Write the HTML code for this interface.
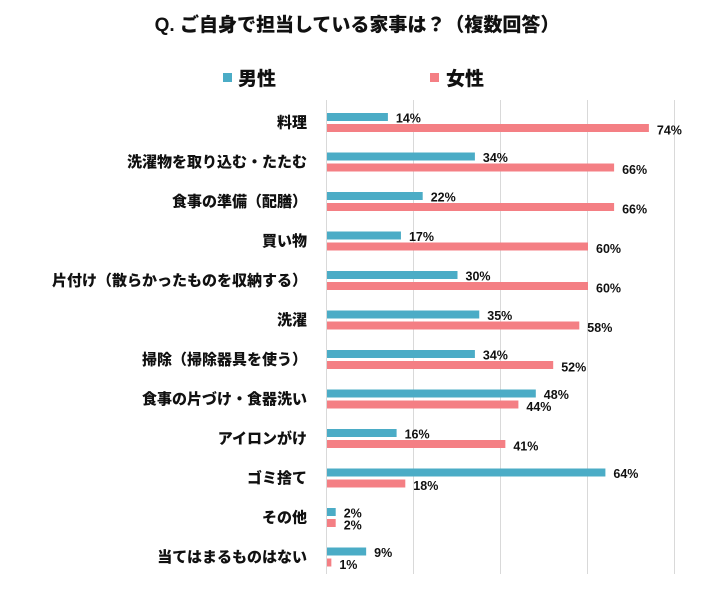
<!DOCTYPE html>
<html><head><meta charset="utf-8"><style>
body{margin:0;width:720px;height:594px;background:#fff;overflow:hidden;font-family:"Liberation Sans","Noto Sans CJK JP",sans-serif;}
</style></head><body>
<svg width="720" height="594" xmlns="http://www.w3.org/2000/svg" font-family="'Liberation Sans','Noto Sans CJK JP',sans-serif" font-weight="bold">
<text x="357" y="31" text-anchor="middle" font-size="19" fill="#111" font-weight="900">Q. ご自身で担当している家事は？（複数回答）</text>
<rect x="223" y="73" width="9" height="9" fill="#4BACC6"/>
<text x="238" y="85" font-size="19" fill="#111" font-weight="900">男性</text>
<rect x="430" y="73" width="9" height="9" fill="#F47F84"/>
<text x="446" y="85" font-size="19" fill="#111" font-weight="900">女性</text>
<g stroke="#d9d9d9" stroke-width="1">
<line x1="413.5" y1="100" x2="413.5" y2="574"/>
<line x1="500.5" y1="100" x2="500.5" y2="574"/>
<line x1="587.5" y1="100" x2="587.5" y2="574"/>
<line x1="674.5" y1="100" x2="674.5" y2="574"/>
<line x1="326.5" y1="100" x2="326.5" y2="574"/>
</g>
<g id="rows"></g>
</svg>
<script>
var d=[["料理",14,74],["洗濯物を取り込む・たたむ",34,66],["食事の準備（配膳）",22,66],["買い物",17,60],["片付け（散らかったものを収納する）",30,60],["洗濯",35,58],["掃除（掃除器具を使う）",34,52],["食事の片づけ・食器洗い",48,44],["アイロンがけ",16,41],["ゴミ捨て",64,18],["その他",2,2],["当てはまるものはない",9,1]];
var g=document.getElementById('rows'),s='',k=4.35;
d.forEach(function(r,i){var c=122.5+i*39.5;
s+='<text x="307" y="'+(c+5)+'" text-anchor="end" font-size="15" font-weight="900" fill="#111">'+r[0]+'</text>';
s+='<rect x="327" y="'+(c-9.5)+'" width="'+(r[1]*k)+'" height="8" fill="#4BACC6"/>';
s+='<rect x="327" y="'+(c+1.5)+'" width="'+(r[2]*k)+'" height="8" fill="#F47F84"/>';
s+='<text x="'+(327+r[1]*k+8)+'" y="'+(c+0)+'" font-size="12.5" fill="#111">'+r[1]+'%</text>';
s+='<text x="'+(327+r[2]*k+8)+'" y="'+(c+12)+'" font-size="12.5" fill="#111">'+r[2]+'%</text>';});
g.innerHTML=s;
</script>
</body></html>
